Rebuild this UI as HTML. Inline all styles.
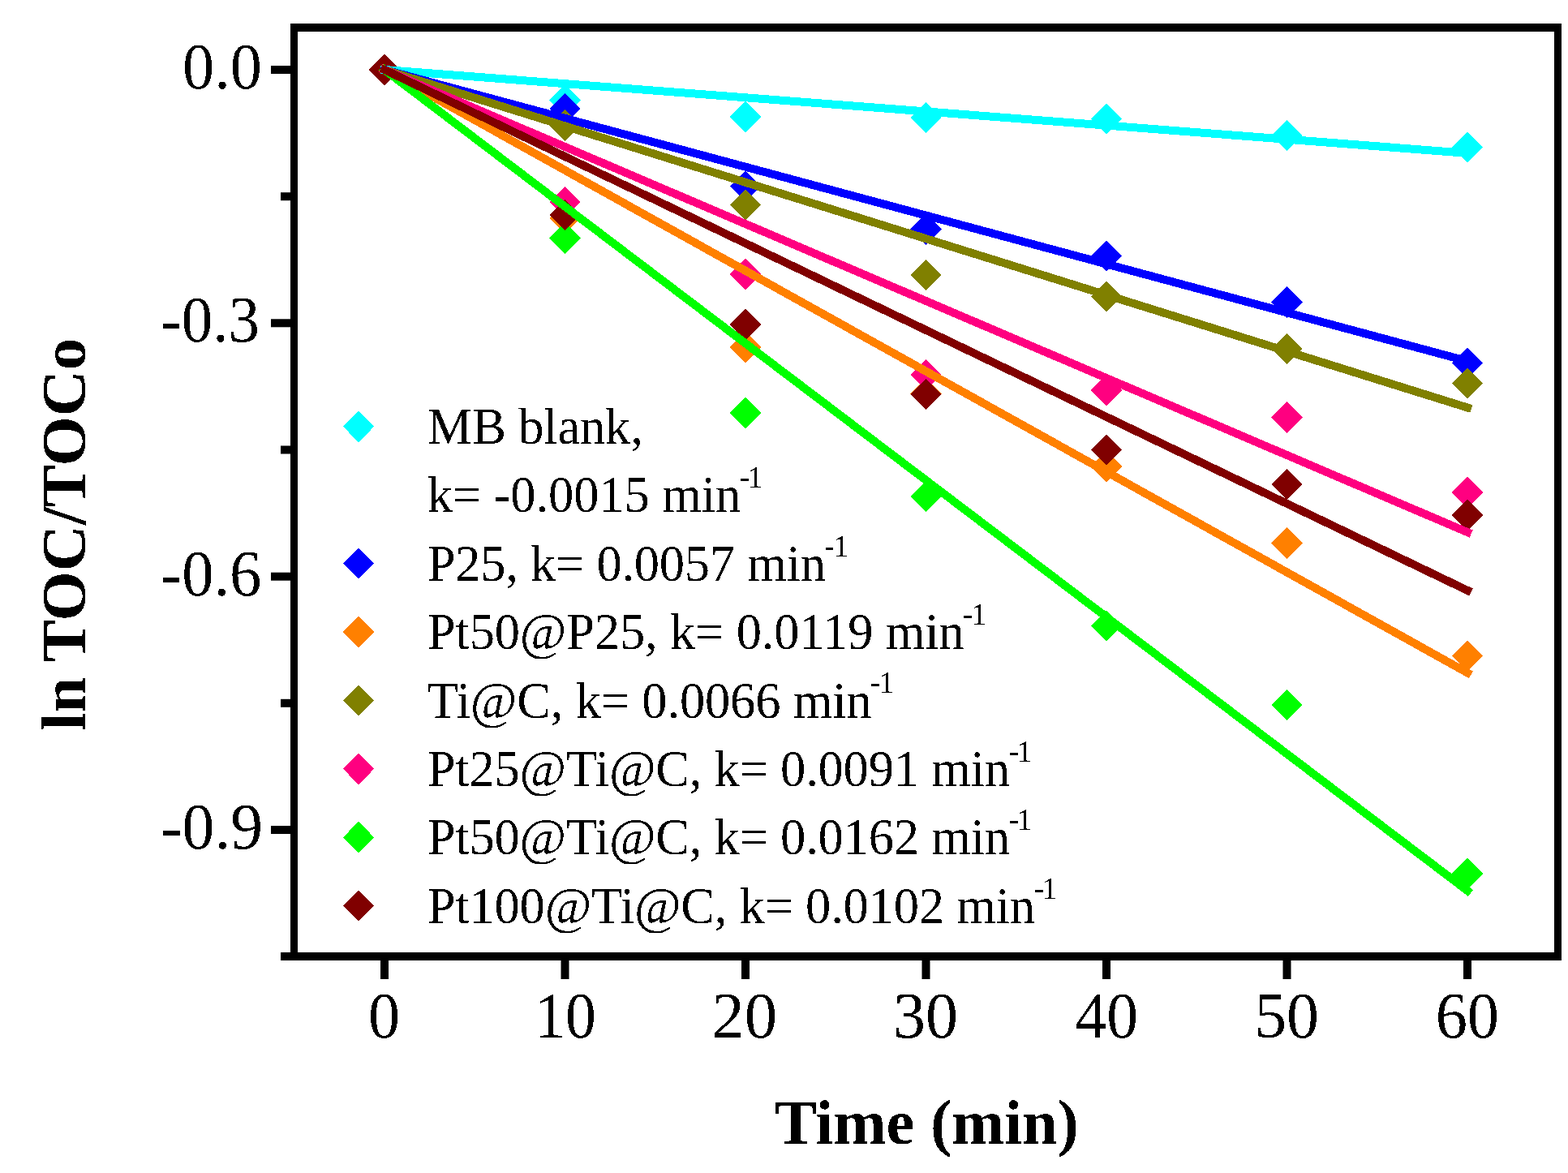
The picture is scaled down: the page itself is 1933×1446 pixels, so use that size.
<!DOCTYPE html><html><head><meta charset="utf-8"><title>ln TOC/TOCo vs Time</title><style>
html,body{margin:0;padding:0;background:#fff;}
body{width:1933px;height:1446px;overflow:hidden;}
svg{display:block;}
text{font-family:"Liberation Serif","Times New Roman",serif;fill:#000;}
.tk{font-size:80px;}
.ti{font-size:79px;font-weight:bold;}
.lg{font-size:62.5px;}
.sp{font-size:37.5px;}
</style></head><body>
<svg width="1933" height="1446" viewBox="0 0 1933 1446">
<defs><filter id="bin" x="0" y="0" width="1933" height="1446" filterUnits="userSpaceOnUse"><feComponentTransfer><feFuncA type="discrete" tableValues="0 1"/></feComponentTransfer></filter></defs>
<rect width="1933" height="1446" fill="#fff"/>
<g shape-rendering="crispEdges">
<path d="M474.0 66.8L493.2 86.0L474.0 105.2L454.8 86.0Z" fill="#00FFFF"/>
<path d="M696.5 104.3L715.7 123.5L696.5 142.7L677.3 123.5Z" fill="#00FFFF"/>
<path d="M919.0 124.8L938.2 144.0L919.0 163.2L899.8 144.0Z" fill="#00FFFF"/>
<path d="M1141.5 125.8L1160.7 145.0L1141.5 164.2L1122.3 145.0Z" fill="#00FFFF"/>
<path d="M1364.0 127.6L1383.2 146.8L1364.0 166.0L1344.8 146.8Z" fill="#00FFFF"/>
<path d="M1586.5 147.7L1605.7 166.9L1586.5 186.1L1567.3 166.9Z" fill="#00FFFF"/>
<path d="M1809.0 162.5L1828.2 181.7L1809.0 200.9L1789.8 181.7Z" fill="#00FFFF"/>
<path d="M474.0 66.8L493.2 86.0L474.0 105.2L454.8 86.0Z" fill="#0000FF"/>
<path d="M696.5 114.8L715.7 134.0L696.5 153.2L677.3 134.0Z" fill="#0000FF"/>
<path d="M919.0 210.3L938.2 229.5L919.0 248.7L899.8 229.5Z" fill="#0000FF"/>
<path d="M1141.5 263.5L1160.7 282.7L1141.5 301.9L1122.3 282.7Z" fill="#0000FF"/>
<path d="M1364.0 296.6L1383.2 315.8L1364.0 335.0L1344.8 315.8Z" fill="#0000FF"/>
<path d="M1586.5 353.2L1605.7 372.4L1586.5 391.6L1567.3 372.4Z" fill="#0000FF"/>
<path d="M1809.0 428.5L1828.2 447.7L1809.0 466.9L1789.8 447.7Z" fill="#0000FF"/>
<path d="M474.0 66.8L493.2 86.0L474.0 105.2L454.8 86.0Z" fill="#FF8000"/>
<path d="M696.5 249.8L715.7 269.0L696.5 288.2L677.3 269.0Z" fill="#FF8000"/>
<path d="M919.0 408.8L938.2 428.0L919.0 447.2L899.8 428.0Z" fill="#FF8000"/>
<path d="M1141.5 466.3L1160.7 485.5L1141.5 504.7L1122.3 485.5Z" fill="#FF8000"/>
<path d="M1364.0 555.8L1383.2 575.0L1364.0 594.2L1344.8 575.0Z" fill="#FF8000"/>
<path d="M1586.5 650.3L1605.7 669.5L1586.5 688.7L1567.3 669.5Z" fill="#FF8000"/>
<path d="M1809.0 789.4L1828.2 808.6L1809.0 827.8L1789.8 808.6Z" fill="#FF8000"/>
<path d="M474.0 66.8L493.2 86.0L474.0 105.2L454.8 86.0Z" fill="#808000"/>
<path d="M696.5 135.3L715.7 154.5L696.5 173.7L677.3 154.5Z" fill="#808000"/>
<path d="M919.0 233.3L938.2 252.5L919.0 271.7L899.8 252.5Z" fill="#808000"/>
<path d="M1141.5 319.8L1160.7 339.0L1141.5 358.2L1122.3 339.0Z" fill="#808000"/>
<path d="M1364.0 346.5L1383.2 365.7L1364.0 384.9L1344.8 365.7Z" fill="#808000"/>
<path d="M1586.5 410.8L1605.7 430.0L1586.5 449.2L1567.3 430.0Z" fill="#808000"/>
<path d="M1809.0 453.3L1828.2 472.5L1809.0 491.7L1789.8 472.5Z" fill="#808000"/>
<path d="M474.0 66.8L493.2 86.0L474.0 105.2L454.8 86.0Z" fill="#FF0080"/>
<path d="M696.5 229.8L715.7 249.0L696.5 268.2L677.3 249.0Z" fill="#FF0080"/>
<path d="M919.0 318.8L938.2 338.0L919.0 357.2L899.8 338.0Z" fill="#FF0080"/>
<path d="M1141.5 442.6L1160.7 461.8L1141.5 481.0L1122.3 461.8Z" fill="#FF0080"/>
<path d="M1364.0 461.8L1383.2 481.0L1364.0 500.2L1344.8 481.0Z" fill="#FF0080"/>
<path d="M1586.5 495.3L1605.7 514.5L1586.5 533.7L1567.3 514.5Z" fill="#FF0080"/>
<path d="M1809.0 587.8L1828.2 607.0L1809.0 626.2L1789.8 607.0Z" fill="#FF0080"/>
<path d="M474.0 66.8L493.2 86.0L474.0 105.2L454.8 86.0Z" fill="#00FF00"/>
<path d="M696.5 274.3L715.7 293.5L696.5 312.7L677.3 293.5Z" fill="#00FF00"/>
<path d="M919.0 489.8L938.2 509.0L919.0 528.2L899.8 509.0Z" fill="#00FF00"/>
<path d="M1141.5 592.8L1160.7 612.0L1141.5 631.2L1122.3 612.0Z" fill="#00FF00"/>
<path d="M1364.0 752.1L1383.2 771.3L1364.0 790.5L1344.8 771.3Z" fill="#00FF00"/>
<path d="M1586.5 850.1L1605.7 869.3L1586.5 888.5L1567.3 869.3Z" fill="#00FF00"/>
<path d="M1809.0 1057.8L1828.2 1077.0L1809.0 1096.2L1789.8 1077.0Z" fill="#00FF00"/>
<path d="M474.0 66.8L493.2 86.0L474.0 105.2L454.8 86.0Z" fill="#800000"/>
<path d="M696.5 245.8L715.7 265.0L696.5 284.2L677.3 265.0Z" fill="#800000"/>
<path d="M919.0 380.8L938.2 400.0L919.0 419.2L899.8 400.0Z" fill="#800000"/>
<path d="M1141.5 466.8L1160.7 486.0L1141.5 505.2L1122.3 486.0Z" fill="#800000"/>
<path d="M1364.0 535.3L1383.2 554.5L1364.0 573.7L1344.8 554.5Z" fill="#800000"/>
<path d="M1586.5 577.6L1605.7 596.8L1586.5 616.0L1567.3 596.8Z" fill="#800000"/>
<path d="M1809.0 615.8L1828.2 635.0L1809.0 654.2L1789.8 635.0Z" fill="#800000"/>
</g>
<g fill="none" stroke-width="10" stroke-linecap="square" shape-rendering="crispEdges">
<line x1="474.00" y1="86.00" x2="1809.00" y2="188.88" stroke="#00FFFF"/>
<line x1="474.00" y1="86.00" x2="1809.00" y2="445.18" stroke="#0000FF"/>
<line x1="474.00" y1="86.00" x2="1809.00" y2="829.35" stroke="#FF8000"/>
<line x1="474.00" y1="86.00" x2="1809.00" y2="502.46" stroke="#808000"/>
<line x1="474.00" y1="86.00" x2="1809.00" y2="656.06" stroke="#FF0080"/>
<line x1="474.00" y1="86.00" x2="1809.00" y2="1097.95" stroke="#00FF00"/>
<line x1="474.00" y1="86.00" x2="1809.00" y2="727.84" stroke="#800000"/>
</g>
<g fill="#000">
<rect x="358" y="29" width="1567" height="10"/>
<rect x="346" y="1174" width="1579" height="10"/>
<rect x="358" y="29" width="9" height="1155"/>
<rect x="1916" y="29" width="9" height="1155"/>
<rect x="334" y="81.0" width="25" height="10"/>
<rect x="334" y="393.3" width="25" height="10"/>
<rect x="334" y="705.7" width="25" height="10"/>
<rect x="334" y="1018.0" width="25" height="10"/>
<rect x="346" y="237.2" width="13" height="10"/>
<rect x="346" y="549.5" width="13" height="10"/>
<rect x="346" y="861.8" width="13" height="10"/>
<rect x="469.0" y="1183" width="10" height="24"/>
<rect x="691.5" y="1183" width="10" height="24"/>
<rect x="914.0" y="1183" width="10" height="24"/>
<rect x="1136.5" y="1183" width="10" height="24"/>
<rect x="1359.0" y="1183" width="10" height="24"/>
<rect x="1581.5" y="1183" width="10" height="24"/>
<rect x="1804.0" y="1183" width="10" height="24"/>
</g>
<g filter="url(#bin)">
<text class="tk" x="225.02" y="109.0" textLength="97.86" lengthAdjust="spacingAndGlyphs">0.0</text>
<text class="tk" x="198.14" y="421.3" textLength="121.97" lengthAdjust="spacingAndGlyphs">-0.3</text>
<text class="tk" x="198.09" y="733.7" textLength="124.25" lengthAdjust="spacingAndGlyphs">-0.6</text>
<text class="tk" x="198.04" y="1046.0" textLength="126.12" lengthAdjust="spacingAndGlyphs">-0.9</text>
<text class="tk" x="453.92" y="1279.2" textLength="39.17" lengthAdjust="spacingAndGlyphs">0</text>
<text class="tk" x="659.25" y="1279.2" textLength="75.63" lengthAdjust="spacingAndGlyphs">10</text>
<text class="tk" x="877.35" y="1279.2" textLength="80.83" lengthAdjust="spacingAndGlyphs">20</text>
<text class="tk" x="1101.07" y="1279.2" textLength="79.97" lengthAdjust="spacingAndGlyphs">30</text>
<text class="tk" x="1325.38" y="1279.2" textLength="77.68" lengthAdjust="spacingAndGlyphs">40</text>
<text class="tk" x="1546.16" y="1279.2" textLength="79.88" lengthAdjust="spacingAndGlyphs">50</text>
<text class="tk" x="1769.63" y="1279.2" textLength="78.46" lengthAdjust="spacingAndGlyphs">60</text>
<text class="ti" x="954.68" y="1410.2" textLength="375.15" lengthAdjust="spacingAndGlyphs">Time (min)</text>
<text class="ti" transform="translate(105,900.52) rotate(-90)" x="0" y="0" textLength="483.60" lengthAdjust="spacingAndGlyphs">ln TOC/TOCo</text>
<path d="M442.0 506.6L461.2 525.8L442.0 545.0L422.8 525.8Z" fill="#00FFFF"/>
<text class="lg" x="526.8" y="546.9" textLength="266.0" lengthAdjust="spacing">MB blank,</text>
<text class="lg" x="526.8" y="631.3" textLength="386.4" lengthAdjust="spacing">k= -0.0015 min</text>
<text class="sp" x="911.6" y="601.2" textLength="28.8" lengthAdjust="spacing">-1</text>
<path d="M442.0 675.4L461.2 694.6L442.0 713.8L422.8 694.6Z" fill="#0000FF"/>
<text class="lg" x="526.8" y="715.7" textLength="491.1" lengthAdjust="spacing">P25, k= 0.0057 min</text>
<text class="sp" x="1016.3" y="685.6" textLength="29.8" lengthAdjust="spacing">-1</text>
<path d="M442.0 759.8L461.2 779.0L442.0 798.2L422.8 779.0Z" fill="#FF8000"/>
<text class="lg" x="526.8" y="800.1" textLength="661.9" lengthAdjust="spacing">Pt50@P25, k= 0.0119 min</text>
<text class="sp" x="1187.1" y="770.0" textLength="29.0" lengthAdjust="spacing">-1</text>
<path d="M442.0 844.2L461.2 863.4L442.0 882.6L422.8 863.4Z" fill="#808000"/>
<text class="lg" x="526.8" y="884.5" textLength="547.9" lengthAdjust="spacing">Ti@C, k= 0.0066 min</text>
<text class="sp" x="1073.1" y="854.4" textLength="29.4" lengthAdjust="spacing">-1</text>
<path d="M442.0 928.6L461.2 947.8L442.0 967.0L422.8 947.8Z" fill="#FF0080"/>
<text class="lg" x="526.8" y="968.9" textLength="718.2" lengthAdjust="spacing">Pt25@Ti@C, k= 0.0091 min</text>
<text class="sp" x="1243.5" y="938.8" textLength="29.2" lengthAdjust="spacing">-1</text>
<path d="M442.0 1013.0L461.2 1032.2L442.0 1051.4L422.8 1032.2Z" fill="#00FF00"/>
<text class="lg" x="526.8" y="1053.3" textLength="718.2" lengthAdjust="spacing">Pt50@Ti@C, k= 0.0162 min</text>
<text class="sp" x="1243.5" y="1023.2" textLength="29.2" lengthAdjust="spacing">-1</text>
<path d="M442.0 1097.4L461.2 1116.6L442.0 1135.8L422.8 1116.6Z" fill="#800000"/>
<text class="lg" x="526.8" y="1137.7" textLength="749.2" lengthAdjust="spacing">Pt100@Ti@C, k= 0.0102 min</text>
<text class="sp" x="1274.4" y="1107.6" textLength="28.8" lengthAdjust="spacing">-1</text>
</g>
</svg></body></html>
